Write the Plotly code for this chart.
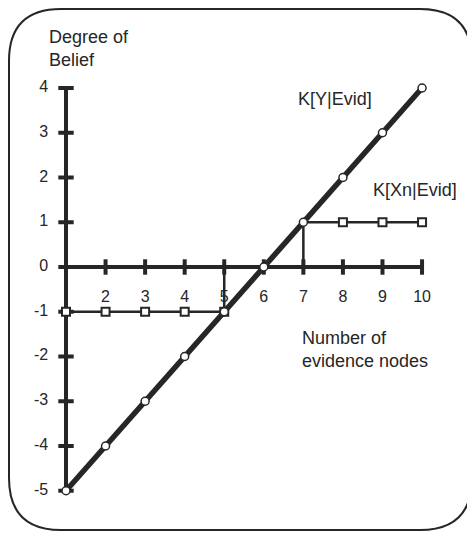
import plotly.graph_objects as go

# data
n_nodes = [1, 2, 3, 4, 5, 6, 7, 8, 9, 10]
k_y = [-5, -4, -3, -2, -1, 0, 1, 2, 3, 4]
k_xn = [-1, -1, -1, -1, -1, 0, 0, 1, 1, 1]
y_ticks = [-5, -4, -3, -2, -1, 0, 1, 2, 3, 4]
x_tick_labels = ["2", "3", "4", "5", "6", "7", "8", "9", "10"]

W, H = 475, 535
OFF = 8  # page body margin
INK = "#262626"
FONT = "Liberation Sans, Arial, sans-serif"


def px(x):
    return (x - OFF) / W


def py(y):
    return 1 - (y - OFF) / H


fig = go.Figure()

# x axis drawn along y = 0
fig.add_trace(go.Scatter(
    x=n_nodes, y=[0] * len(n_nodes),
    mode="lines+markers",
    line=dict(color=INK, width=4),
    marker=dict(symbol="line-ns", size=11, line=dict(color=INK, width=4)),
    hoverinfo="skip"
))

# y axis drawn along x = 1
fig.add_trace(go.Scatter(
    x=[n_nodes[0]] * len(y_ticks), y=y_ticks,
    mode="lines+markers",
    line=dict(color=INK, width=4),
    marker=dict(symbol="line-ew", size=11, line=dict(color=INK, width=4)),
    hoverinfo="skip"
))

# K[Xn|Evid] step line
fig.add_trace(go.Scatter(
    x=n_nodes, y=k_xn,
    mode="lines",
    line=dict(color=INK, width=2.5, shape="vh"),
    hoverinfo="skip"
))
xn_pts = [(x, v) for x, v in zip(n_nodes, k_xn) if v != 0]
fig.add_trace(go.Scatter(
    x=[p[0] for p in xn_pts], y=[p[1] for p in xn_pts],
    mode="markers",
    marker=dict(symbol="square", size=8, color="white", line=dict(color=INK, width=2)),
    hoverinfo="skip"
))

# K[Y|Evid] line
fig.add_trace(go.Scatter(
    x=n_nodes, y=k_y,
    mode="lines+markers",
    line=dict(color=INK, width=5.5),
    marker=dict(symbol="circle", size=8, color="white", line=dict(color=INK, width=1.5)),
    hoverinfo="skip"
))

# tick labels
fig.add_trace(go.Scatter(
    x=[0.55] * len(y_ticks), y=y_ticks,
    mode="text", text=[str(v) for v in y_ticks],
    textposition="middle left",
    textfont=dict(family=FONT, size=16, color=INK),
    hoverinfo="skip"
))
fig.add_trace(go.Scatter(
    x=n_nodes[1:], y=[-0.69] * len(x_tick_labels),
    mode="text", text=x_tick_labels,
    textposition="middle center",
    textfont=dict(family=FONT, size=16, color=INK),
    hoverinfo="skip"
))

# text labels
labels = [
    ("Degree of<br>Belief", 47, 25),
    ("K[Y|Evid]", 296, 87),
    ("K[Xn|Evid]", 371, 178),
    ("Number of<br>evidence nodes", 300, 326),
]
for txt, lx, ly in labels:
    fig.add_annotation(
        x=px(lx), y=py(ly), xref="paper", yref="paper",
        text=txt, showarrow=False, align="left",
        xanchor="left", yanchor="top",
        font=dict(family=FONT, size=18, color=INK)
    )

# rounded frame (kept inside the figure area)
x0, x1, y0, y1, r = 9, 472, 9, 530, 52
path = (
    f"M {px(x0 + r)} {py(y0)} L {px(x1 - r)} {py(y0)} "
    f"Q {px(x1)} {py(y0)} {px(x1)} {py(y0 + r)} "
    f"L {px(x1)} {py(y1 - r)} "
    f"Q {px(x1)} {py(y1)} {px(x1 - r)} {py(y1)} "
    f"L {px(x0 + r)} {py(y1)} "
    f"Q {px(x0)} {py(y1)} {px(x0)} {py(y1 - r)} "
    f"L {px(x0)} {py(y0 + r)} "
    f"Q {px(x0)} {py(y0)} {px(x0 + r)} {py(y0)} Z"
)
fig.add_shape(type="path", path=path, xref="paper", yref="paper",
              line=dict(color=INK, width=2))

fig.update_layout(
    width=W, height=H, autosize=False,
    margin=dict(l=0, r=0, t=0, b=0),
    paper_bgcolor="white", plot_bgcolor="white",
    showlegend=False,
    xaxis=dict(range=[-0.466, 11.541], visible=False, fixedrange=True),
    yaxis=dict(range=[-6.168, 5.788], visible=False, fixedrange=True),
)

fig.write_html("out.html")
